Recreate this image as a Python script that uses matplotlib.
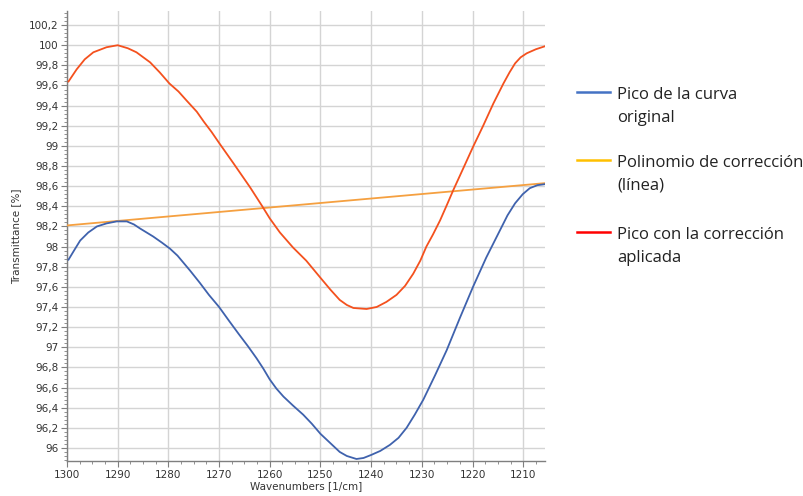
import matplotlib.pyplot as plt
from matplotlib.lines import Line2D
from matplotlib.ticker import FuncFormatter, MultipleLocator

# Pico original (transmitancia vs numero de onda)
wn_orig = [1299.7, 1298.5, 1297.4, 1295.8, 1294.1, 1292.2, 1290.2, 1288.2, 1286.8,
           1285.6, 1283.0, 1281.3, 1279.7, 1278.2, 1276.7, 1275.7, 1273.8, 1272.0,
           1270.0, 1268.0, 1266.1, 1264.3, 1262.6, 1261.3, 1260.0, 1258.7, 1257.3,
           1255.4, 1253.4, 1251.7, 1250.0, 1248.1, 1246.2, 1244.8, 1242.9, 1241.5,
           1240.0, 1238.2, 1236.3, 1234.6, 1233.0, 1231.4, 1229.7, 1227.4, 1225.1,
           1222.5, 1219.9, 1217.3, 1214.6, 1213.1, 1211.6, 1210.1, 1208.7, 1207.2,
           1205.7]
t_orig = [97.87, 97.97, 98.06, 98.14, 98.20, 98.23, 98.25, 98.25, 98.22,
          98.18, 98.10, 98.04, 97.98, 97.91, 97.82, 97.76, 97.64, 97.52,
          97.40, 97.26, 97.13, 97.01, 96.89, 96.79, 96.68, 96.59, 96.51,
          96.42, 96.33, 96.24, 96.14, 96.05, 95.96, 95.92, 95.89, 95.90,
          95.93, 95.97, 96.03, 96.10, 96.20, 96.33, 96.48, 96.72, 96.97,
          97.29, 97.60, 97.89, 98.16, 98.31, 98.43, 98.52, 98.58, 98.61,
          98.62]

# Linea base (polinomio de grado 1)
wn_base = [1300.0, 1205.7]
t_base = [98.21, 98.63]

# Pico corregido
wn_corr = [1299.7, 1298.1, 1296.5, 1294.8, 1292.2, 1290.0, 1288.0, 1286.3, 1283.6,
           1281.7, 1279.8, 1278.0, 1276.4, 1274.4, 1273.0, 1271.5, 1270.0, 1267.2,
           1263.9, 1261.6, 1260.0, 1258.0, 1255.4, 1252.8, 1250.0, 1248.0, 1246.2,
           1244.8, 1243.5, 1240.9, 1238.9, 1237.0, 1235.0, 1233.3, 1231.7, 1230.3,
           1229.1, 1227.8, 1226.4, 1225.0, 1223.8, 1221.8, 1219.9, 1217.9, 1215.9,
           1213.9, 1212.7, 1211.6, 1210.5, 1209.3, 1207.5, 1205.7]
t_corr = [99.64, 99.76, 99.86, 99.93, 99.98, 100.00, 99.97, 99.93, 99.83,
          99.73, 99.62, 99.54, 99.45, 99.34, 99.24, 99.14, 99.03, 98.83,
          98.59, 98.41, 98.28, 98.14, 97.99, 97.86, 97.69, 97.57, 97.47,
          97.42, 97.39, 97.38, 97.40, 97.45, 97.52, 97.61, 97.73, 97.86,
          98.00, 98.12, 98.26, 98.42, 98.56, 98.78, 98.99, 99.20, 99.42,
          99.62, 99.73, 99.82, 99.88, 99.92, 99.96, 99.99]

legend_labels = [('Pico de la curva', 'original'),
                 ('Polinomio de corrección', '(línea)'),
                 ('Pico con la corrección', 'aplicada')]
legend_colors = ['#4472C4', '#FFC000', '#FF0000']
legend_rows = [92, 160, 232]  # altura en pixeles de cada entrada


def comma_fmt(v, pos):
    return ('%g' % round(v, 2)).replace('.', ',')


W, H = 804, 496
fig = plt.figure(figsize=(W / 100, H / 100), dpi=100)
ax = fig.add_axes([67 / W, 1 - 461 / H, 478 / W, 450 / H])

ax.plot(wn_base, t_base, color='#F5A040', lw=1.3, zorder=3)
ax.plot(wn_orig, t_orig, color='#3F62AD', lw=1.3, zorder=4)
ax.plot(wn_corr, t_corr, color='#F4511E', lw=1.3, zorder=4)

ax.set_xlim(1300, 1205.7)
ax.set_ylim(95.87, 100.34)
ax.xaxis.set_major_locator(MultipleLocator(10))
ax.xaxis.set_minor_locator(MultipleLocator(2.5))
ax.yaxis.set_major_locator(MultipleLocator(0.2))
ax.yaxis.set_minor_locator(MultipleLocator(0.04))
ax.yaxis.set_major_formatter(FuncFormatter(comma_fmt))
ax.xaxis.set_major_formatter(FuncFormatter(comma_fmt))

ax.grid(True, which='major', color='#D4D4D4', lw=1.0)
ax.set_axisbelow(True)
for side in ['top', 'right']:
    ax.spines[side].set_visible(False)
for side in ['left', 'bottom']:
    ax.spines[side].set_color('#7F7F7F')
    ax.spines[side].set_linewidth(1.0)
ax.tick_params(which='major', direction='out', length=4, width=0.8,
               color='#7F7F7F', labelsize=7.5, labelcolor='#333333')
ax.tick_params(axis='x', which='major', pad=2.5)
ax.tick_params(axis='y', which='major', pad=2)
ax.tick_params(which='minor', direction='out', length=2, width=0.6, color='#7F7F7F')
ax.set_xlabel('Wavenumbers [1/cm]', fontsize=7.5, color='#333333', labelpad=1)
ax.set_ylabel('Transmittance [%]', fontsize=7.5, color='#333333', labelpad=6)

# leyenda dibujada a mano a la derecha del grafico
for row, (l1, l2), col in zip(legend_rows, legend_labels, legend_colors):
    fig.add_artist(Line2D([577 / W, 610 / W], [1 - row / H] * 2, color=col, lw=1.8))
    fig.text(617 / W, 1 - (row + 1) / H, l1, fontsize=12, family='Open Sans',
             color='#222222', va='center_baseline', ha='left')
    fig.text(617 / W, 1 - (row + 24) / H, l2, fontsize=12, family='Open Sans',
             color='#222222', va='center_baseline', ha='left')

fig.savefig('out.png', dpi=100)
